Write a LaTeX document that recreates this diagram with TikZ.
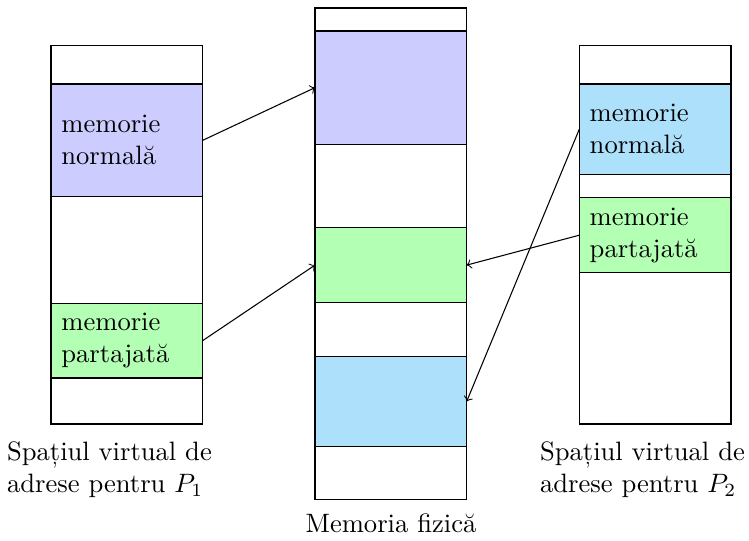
\documentclass[tikz,border=0pt]{standalone}
\definecolor{segpurple}{RGB}{204,204,255}
\definecolor{seggreen}{RGB}{179,255,179}
\definecolor{segblue}{RGB}{173,224,250}
\begin{document}
\begin{tikzpicture}[x=0.01321cm,y=-0.01321cm,
  seg/.style={draw, line width=0.4pt, minimum width=2.004cm, inner xsep=3.9pt,
    inner ysep=0pt, text width=49.2pt, align=left, anchor=north west, outer sep=0pt},
  ht/.style={minimum height=#1*0.01321cm},
  lbl/.style={inner sep=0pt, align=left, anchor=north west},
  conn/.style={->, line width=0.4pt}]
\useasboundingbox (0,0) rectangle (749,541);
% left column
\node[seg, ht=38.5] (L0) at (51,45.5) {};
\node[seg, ht=112.7, fill=segpurple] (L1) at (51,84) {memorie\\normală};
\node[seg, ht=106.6] (L2) at (51,196.7) {};
\node[seg, ht=74.7, fill=seggreen] (L3) at (51,303.3) {memorie\\partajată};
\node[seg, ht=46] (L4) at (51,378) {};
% middle column
\node[seg, ht=23] (M0) at (315,8) {};
\node[seg, ht=113.3, fill=segpurple] (M1) at (315,31) {};
\node[seg, ht=83.4] (M2) at (315,144.3) {};
\node[seg, ht=74.8, fill=seggreen] (M3) at (315,227.7) {};
\node[seg, ht=53.8] (M4) at (315,302.5) {};
\node[seg, ht=90.4, fill=segblue] (M5) at (315,356.3) {};
\node[seg, ht=52.8] (M6) at (315,446.7) {};
% right column
\node[seg, ht=38.5] (R0) at (579.3,45.5) {};
\node[seg, ht=90.3, fill=segblue] (R1) at (579.3,84) {memorie\\normală};
\node[seg, ht=23.4] (R2) at (579.3,174.3) {};
\node[seg, ht=75, fill=seggreen] (R3) at (579.3,197.7) {memorie\\partajată};
\node[seg, ht=151.3] (R4) at (579.3,272.7) {};
% connectors
\draw[conn] (L1.east) -- (M1.west);
\draw[conn] (L3.east) -- (M3.west);
\draw[conn] (R3.west) -- (M3.east);
\draw[conn] (R1.west) -- (M5.east);
% labels
\node[lbl] (lab1) at (6.5,441.5) {Spațiul virtual de\\adrese pentru $P_1$};
\node[lbl] (lab2) at (539.5,441.5) {Spațiul virtual de\\adrese pentru $P_2$};
\node[inner sep=0pt, anchor=base] (lab3) at (391,532) {Memoria fizică};
\end{tikzpicture}
\end{document}
